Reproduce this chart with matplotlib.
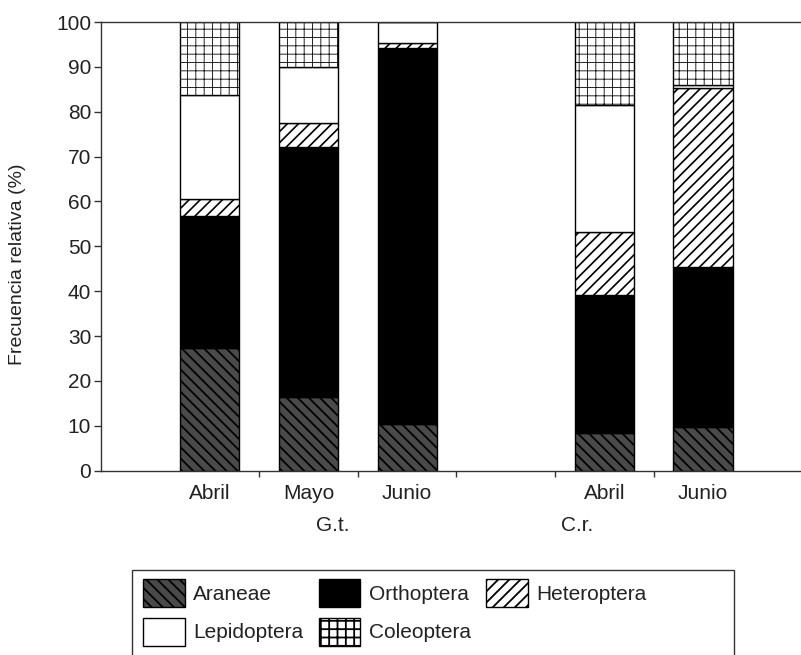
import matplotlib
matplotlib.use("Agg")
import matplotlib.pyplot as plt
from matplotlib.patches import Rectangle, Patch
from matplotlib.transforms import blended_transform_factory
import numpy as np

plt.rcParams['font.family'] = ['Liberation Sans', 'DejaVu Sans']
plt.rcParams['hatch.linewidth'] = 1.3

# Data (relative frequency, %)
months = ["Abril", "Mayo", "Junio", "Abril", "Junio"]
groups = ["G.t.", "C.r."]
taxa = ["Araneae", "Orthoptera", "Heteroptera", "Lepidoptera", "Coleoptera"]
araneae     = [27.4, 16.5, 10.4,  8.5,  9.8]
orthoptera  = [29.4, 55.7, 83.7, 30.7, 35.7]
heteroptera = [ 3.8,  5.4,  1.2, 14.1, 39.7]
lepidoptera = [23.1, 12.4,  4.7, 28.2,  0.8]
coleoptera  = [16.3, 10.0,  0.0, 18.5, 14.0]

positions = [1, 2, 3, 5, 6]
series = [araneae, orthoptera, heteroptera, lepidoptera, coleoptera]
styles = [
    dict(facecolor="#4a4a4a", hatch="\\\\\\", hlw=1.3),
    dict(facecolor="black", hatch=None, hlw=1.0),
    dict(facecolor="white", hatch="///", hlw=1.2),
    dict(facecolor="white", hatch=None, hlw=1.0),
    dict(facecolor="white", hatch="++", hlw=0.6),
]

FS = 15
TXT = "#222222"

fig = plt.figure(figsize=(8.01, 6.55), dpi=100)
ax = fig.add_axes([0.126, 0.2814, 0.874, 0.685])

def set_hlw(p, w):
    if hasattr(p, "set_hatch_linewidth"):
        p.set_hatch_linewidth(w)

bottom = np.zeros(len(positions))
handles = []
for name, vals, st in zip(taxa, series, styles):
    vals = np.array(vals)
    bars = ax.bar(positions, vals, width=0.6, bottom=bottom, color=st["facecolor"],
                  hatch=st["hatch"], edgecolor="black", linewidth=1.0)
    for b in bars:
        set_hlw(b, st["hlw"])
    bottom += vals
    h = Patch(facecolor=st["facecolor"], hatch=st["hatch"],
              edgecolor="black", linewidth=1.0, label=name)
    set_hlw(h, st["hlw"])
    handles.append(h)

ax.set_xlim(-0.105, 6.994)
ax.set_ylim(0, 100)
ax.set_yticks(np.arange(0, 101, 10))
ax.set_xticks([1.5, 2.5, 3.5, 4.5, 5.5])
ax.set_xticklabels([])
ax.set_xticks(positions, minor=True)
ax.set_xticklabels(months, minor=True)
ax.tick_params(axis="x", which="major", direction="out", length=4, width=1, color="#333333")
ax.tick_params(axis="x", which="minor", length=0, pad=9.5, labelsize=FS, labelcolor=TXT)
ax.tick_params(axis="y", direction="out", length=5, width=1, color="#333333",
               labelsize=FS, labelcolor=TXT, pad=2)
ax.spines["right"].set_visible(False)
for s in ["left", "bottom", "top"]:
    ax.spines[s].set_color("#333333")
    ax.spines[s].set_linewidth(1.0)

fig.text(18 / 801, 1 - 264 / 655, "Frecuencia relativa (%)", rotation=90,
         ha="center", va="center", fontsize=14, color=TXT)

trans = blended_transform_factory(ax.transData, fig.transFigure)
ax.text(2.25, 1 - 531 / 655, groups[0], transform=trans, ha="center", va="baseline",
        fontsize=FS, color=TXT)
ax.text(4.72, 1 - 531 / 655, groups[1], transform=trans, ha="center", va="baseline",
        fontsize=FS, color=TXT)

# legend box (extends past bottom edge)
fig.patches.append(Rectangle((132 / 801, -0.05), 602 / 801, 0.05 + 1 - 570 / 655,
                             transform=fig.transFigure, facecolor="white",
                             edgecolor="#333333", linewidth=1.0))
order = [0, 3, 1, 4, 2]
leg = fig.legend([handles[i] for i in order], [taxa[i] for i in order],
                 loc="upper left", bbox_to_anchor=(143 / 801, 1 - 579 / 655), ncol=3,
                 frameon=False, fontsize=FS, handlelength=2.0, handleheight=1.7,
                 handletextpad=0.4, columnspacing=0.75, labelspacing=0.5,
                 borderaxespad=0, borderpad=0)
for t in leg.get_texts():
    t.set_color(TXT)

fig.savefig("out.png", dpi=100)
